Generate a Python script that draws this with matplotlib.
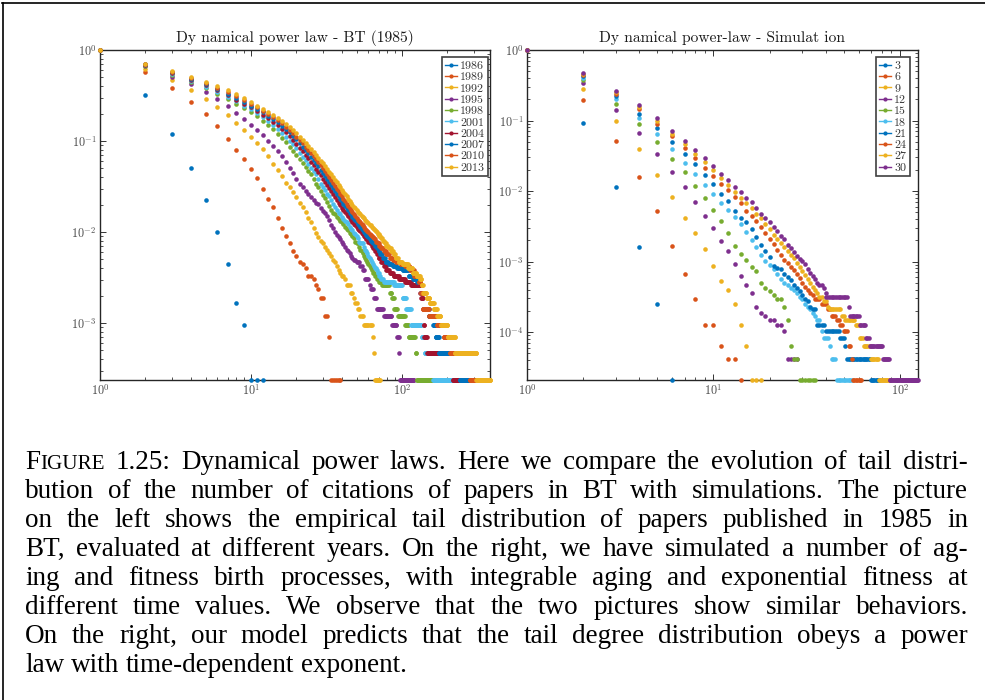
import matplotlib
matplotlib.use('Agg')
import matplotlib.pyplot as plt
from matplotlib.lines import Line2D
from matplotlib import ticker
import numpy as np

plt.rcParams['mathtext.fontset'] = 'cm'

# ---------------- data: left panel (BT, papers published 1985) ----------------
# head: number of papers with >= x citations, for x = 1, 2, 3, ...
# tail: (count, first x, last x) plateaus of the same count
N_BT = 4230
bt_labels = ['1986', '1989', '1992', '1995', '1998', '2001', '2004', '2007', '2010', '2013']

bt1986_head = [4230, 1345, 508, 212, 95, 42, 19]
bt1986_tail = [(7, 8, 8), (4, 9, 9), (1, 10, 12)]

bt1989_head = [4230, 2432, 1629, 1142, 829, 618, 444, 338, 271, 207, 165, 127, 97, 80, 60, 47, 38, 32, 26, 23, 20, 19, 17]
bt1989_tail = [(14, 24, 25), (13, 26, 26), (11, 27, 27), (10, 28, 28), (8, 29, 30), (5, 31, 32), (3, 33, 33), (1, 34, 39)]

bt1992_head = [4230, 2623, 1980, 1535, 1227, 1003, 816, 660, 554, 465, 398, 343, 292, 237, 203, 173, 148, 131, 117, 102,
               88, 79, 71, 60, 54, 47, 41, 37, 34, 32, 29, 27, 25, 23, 21, 20, 18, 16, 15]
bt1992_tail = [(14, 40, 41), (13, 42, 42), (11, 43, 45), (9, 46, 47), (8, 48, 48), (7, 49, 50), (6, 51, 52), (5, 53, 55),
               (4, 56, 63), (3, 64, 64), (2, 65, 65), (1, 66, 72)]

bt1995_head = [4230, 2813, 2157, 1777, 1459, 1222, 1028, 867, 736, 639, 563, 491, 427, 376, 330, 288, 250, 216, 186, 161,
               144, 131, 118, 110, 102, 95, 89, 86, 78, 72, 68, 63, 58, 51, 47, 42, 39, 37, 35, 33, 31, 29, 27, 26, 25, 23, 22]
bt1995_tail = [(21, 48, 49), (20, 50, 52), (18, 53, 54), (16, 55, 56), (13, 57, 60), (11, 61, 61), (10, 62, 64), (8, 65, 67),
               (6, 68, 75), (5, 76, 85), (4, 86, 92), (3, 93, 95), (2, 96, 96), (1, 97, 120)]

bt1998_head = [4230, 2855, 2263, 1882, 1599, 1387, 1218, 1079, 964, 876, 787, 702, 630, 567, 508, 457, 410, 368, 330, 296,
               266, 241, 220, 199, 182, 161, 144, 131, 118, 108, 99, 91, 82, 74, 69, 66, 62, 59, 56, 54, 52, 48, 46, 44, 41,
               40, 38, 36, 33, 32, 32, 29, 27, 26, 25, 23, 22, 21, 20, 19, 18, 17, 16]
bt1998_tail = [(15, 64, 65), (14, 66, 67), (13, 68, 70), (12, 71, 73), (11, 74, 82), (9, 83, 85), (8, 86, 88), (6, 89, 93),
               (5, 94, 104), (4, 105, 110), (3, 111, 122), (2, 123, 124), (1, 125, 160)]

bt2001_head = [4230, 2898, 2327, 1946, 1671, 1459, 1290, 1151, 1036, 939, 859, 778, 702, 635, 575, 520, 470, 427, 389, 351,
               313, 283, 262, 237, 216, 199, 182, 161, 144, 131, 123, 110, 104, 95, 87, 80, 74, 69, 66, 62, 59, 56, 54, 52,
               48, 46, 44, 41, 40, 38, 36, 33, 32, 32, 32, 29, 27, 26, 25, 23, 22, 21, 20, 19, 18]
bt2001_tail = [(17, 66, 67), (16, 68, 68), (15, 69, 70), (14, 71, 72), (13, 73, 75), (12, 76, 88), (11, 89, 100), (8, 101, 106),
               (6, 107, 114), (4, 115, 134), (3, 135, 141), (2, 142, 160), (1, 161, 214)]

bt2004_head = [4230, 2919, 2369, 1988, 1734, 1523, 1345, 1206, 1091, 998, 905, 825, 753, 689, 630, 575, 525, 478, 431, 389,
               355, 325, 298, 273, 250, 229, 210, 193, 177, 163, 150, 139, 128, 119, 110, 102, 95, 89, 83, 78, 74, 70, 66,
               63, 60, 57, 54, 52, 50, 48, 46, 44, 43, 41, 40, 38, 37]
bt2004_tail = [(35, 58, 59), (33, 60, 60), (32, 61, 62), (30, 63, 63), (28, 64, 65), (26, 66, 67), (24, 68, 69), (22, 70, 72),
               (20, 73, 75), (18, 76, 78), (16, 79, 82), (15, 83, 87), (14, 88, 95), (13, 96, 104), (12, 105, 114),
               (11, 115, 131), (9, 132, 133), (8, 134, 137), (6, 138, 138), (4, 139, 140), (3, 141, 146), (2, 147, 217),
               (1, 218, 242)]

bt2007_head = [4230, 2940, 2411, 2030, 1777, 1565, 1396, 1252, 1134, 1036, 952, 876, 804, 740, 681, 626, 575, 529, 482, 440,
               400, 366, 336, 309, 284, 262, 241, 222, 205, 189, 175, 162, 150, 139, 129, 120, 112, 105, 98, 92, 87, 82,
               77, 73, 69, 66, 62, 59, 57, 54, 52, 50, 48, 46, 44, 42, 41, 39, 38, 37, 35, 34, 33]
bt2007_tail = [(32, 64, 65), (30, 66, 67), (28, 68, 69), (26, 70, 71), (24, 72, 74), (22, 75, 77), (20, 78, 81), (19, 82, 86),
               (18, 87, 92), (17, 93, 100), (16, 101, 110), (14, 111, 118), (13, 119, 125), (12, 126, 132), (9, 133, 139),
               (6, 140, 150), (5, 151, 160), (4, 161, 166), (3, 167, 175), (2, 176, 241), (1, 242, 282)]

bt2010_head = [4230, 2961, 2445, 2073, 1832, 1629, 1459, 1311, 1184, 1079, 994, 914, 842, 774, 715, 660, 609, 563, 516, 474,
               435, 400, 368, 339, 312, 288, 266, 246, 228, 211, 196, 182, 169, 157, 146, 136, 127, 119, 111, 104, 98, 92,
               87, 82, 78, 74, 70, 67, 64, 61, 58, 56, 54, 52, 50, 48, 46, 45, 43, 42, 40, 39, 38, 37, 36, 35]
bt2010_tail = [(33, 67, 68), (32, 69, 70), (30, 71, 72), (28, 73, 75), (26, 76, 78), (24, 79, 82), (22, 83, 86), (21, 87, 91),
               (20, 92, 97), (19, 98, 104), (18, 105, 112), (16, 113, 120), (14, 121, 128), (12, 129, 132), (9, 133, 136),
               (6, 137, 150), (5, 151, 169), (4, 170, 188), (3, 189, 207), (2, 208, 281), (1, 282, 310)]

bt2013_head = [4230, 3003, 2475, 2115, 1882, 1692, 1523, 1375, 1248, 1121, 1036, 952, 876, 812, 753, 698, 647, 601, 554, 512,
               470, 435, 402, 372, 345, 320, 297, 276, 257, 240, 224, 209, 195, 182, 170, 159, 149, 140, 131, 123, 116, 110,
               104, 98, 93, 88, 84, 80, 77, 74, 71, 68, 66, 64, 62, 60, 58, 56, 54, 53, 51, 50, 48, 47, 46, 44, 43, 42]
bt2013_tail = [(40, 69, 70), (38, 71, 72), (36, 73, 74), (34, 75, 76), (32, 77, 78), (30, 79, 81), (28, 82, 84), (26, 85, 87),
               (24, 88, 90), (22, 91, 94), (20, 95, 100), (19, 101, 109), (17, 110, 117), (15, 118, 124), (14, 125, 131),
               (13, 132, 134), (11, 135, 137), (9, 138, 145), (8, 146, 152), (7, 153, 162), (6, 163, 170), (5, 171, 180),
               (4, 181, 200), (3, 201, 224), (2, 225, 310), (1, 311, 383)]

# ---------------- data: right panel (simulation) ----------------
N_SIM = 47800
sim_labels = ['3', '6', '9', '12', '15', '18', '21', '24', '27', '30']

sim03_head = [47800, 4445, 545, 76, 12, 1]
sim03_tail = []
sim06_head = [47800, 9417, 2438, 750, 253, 79, 32, 14, 6, 6, 3, 2, 2, 1]
sim06_tail = []
sim09_head = [47800, 13480, 4732, 1912, 803, 397, 201, 120, 72, 42, 25, 19, 12, 6, 3, 1, 1, 1]
sim09_tail = []
sim12_head = [47800, 16252, 6740, 3203, 1582, 899, 550, 330, 210, 143, 94, 67, 44, 30, 22, 17, 11, 9, 8, 7, 7, 6, 6, 5,
              2, 2, 2, 2]
sim12_tail = []
sim15_head = [47800, 18164, 8269, 4254, 2342, 1358, 899, 569, 387, 258, 182, 120, 79, 62, 50, 40, 35, 24, 20, 18, 16, 14,
              14, 11, 7, 3, 2, 2]
sim15_tail = [(1, 29, 35)]
sim18_head = [47800, 19359, 9799, 5162, 3040, 1864, 1209, 832, 583, 435, 325, 258, 206, 163, 124, 96, 77, 59, 48, 43, 38,
              32, 27, 24, 22, 20, 19, 17, 15, 14, 12, 11, 10, 9, 8, 7, 7, 5]
sim18_tail = [(4, 39, 41), (3, 42, 42), (2, 43, 45), (1, 46, 55)]
sim21_head = [47800, 20315, 10612, 5975, 3705, 2390, 1625, 1142, 808, 593, 435, 344, 249, 201, 172, 139, 105, 82, 67, 55,
              42, 39, 37, 32, 29, 26, 22, 20, 18, 16, 14, 13, 11, 10, 10]
sim21_tail = [(6, 36, 39), (5, 40, 47), (4, 48, 50), (3, 51, 51), (2, 52, 69), (1, 70, 77)]
sim24_head = [47800, 21032, 11376, 6931, 4302, 2849, 1965, 1420, 1023, 779, 598, 497, 397, 320, 253, 210, 177, 148, 120,
              100, 85, 70, 59, 51, 46, 40, 36, 32, 28, 24, 21, 19, 17, 16, 14]
sim24_tail = [(14, 36, 37), (12, 38, 40), (10, 41, 42), (8, 43, 45), (7, 46, 47), (6, 48, 49), (5, 50, 52), (3, 53, 54),
              (2, 55, 55), (1, 56, 62)]
sim27_head = [47800, 21749, 11950, 7409, 4684, 3059, 2199, 1625, 1214, 937, 736, 583, 468, 382, 320, 272, 229, 196, 165,
              140, 115, 100, 88, 78, 68, 60, 53, 46, 40, 35, 31, 27, 24, 21, 19, 17]
sim27_tail = [(15, 37, 38), (13, 39, 40), (11, 41, 41), (10, 42, 48), (8, 49, 50), (7, 51, 57), (6, 58, 60), (4, 61, 63),
              (3, 64, 69), (2, 70, 76), (1, 77, 87)]
sim30_head = [47800, 22562, 12667, 7839, 5115, 3442, 2486, 1816, 1386, 1071, 846, 684, 550, 468, 382, 330, 277, 229, 201,
              172, 148, 129, 110, 100, 82, 74, 66, 58, 52, 48, 44, 37, 33, 30, 27, 24, 22, 22, 20, 17]
sim30_tail = [(15, 40, 52), (11, 53, 53), (8, 54, 60), (6, 61, 65), (4, 66, 68), (3, 69, 80), (2, 81, 87), (1, 88, 125)]

# ---------------- style ----------------
BLUE, ORANGE, YELLOW, PURPLE = '#0072BD', '#D95319', '#EDB120', '#7E2F8E'
GREEN, LIGHTBLUE, DARKRED = '#77AC30', '#4DBEEE', '#A2142F'
bt_colors = [BLUE, ORANGE, YELLOW, PURPLE, GREEN, LIGHTBLUE, DARKRED, BLUE, ORANGE, YELLOW]
sim_colors = [BLUE, ORANGE, YELLOW, PURPLE, GREEN, LIGHTBLUE, BLUE, ORANGE, YELLOW, PURPLE]

bt_series = [(bt1986_head, bt1986_tail), (bt1989_head, bt1989_tail), (bt1992_head, bt1992_tail),
             (bt1995_head, bt1995_tail), (bt1998_head, bt1998_tail), (bt2001_head, bt2001_tail),
             (bt2004_head, bt2004_tail), (bt2007_head, bt2007_tail), (bt2010_head, bt2010_tail),
             (bt2013_head, bt2013_tail)]
sim_series = [(sim03_head, sim03_tail), (sim06_head, sim06_tail), (sim09_head, sim09_tail),
              (sim12_head, sim12_tail), (sim15_head, sim15_tail), (sim18_head, sim18_tail),
              (sim21_head, sim21_tail), (sim24_head, sim24_tail), (sim27_head, sim27_tail),
              (sim30_head, sim30_tail)]

W, H = 985, 700
fig = plt.figure(figsize=(W / 100, H / 100), dpi=100)
fig.patch.set_facecolor('white')


def rect(x0, y0, x1, y1):
    return [x0 / W, 1 - y1 / H, (x1 - x0) / W, (y1 - y0) / H]


def expand(head, tail):
    xs = list(range(1, len(head) + 1))
    ks = list(head)
    for k, a, b in tail:
        for x in range(a, b + 1):
            xs.append(x)
            ks.append(k)
    return np.array(xs, float), np.array(ks, float)


axL = fig.add_axes(rect(100, 50, 490, 380))
axR = fig.add_axes(rect(527, 50, 918, 380))

exp_fmt = ticker.FuncFormatter(lambda v, p: r'$10^{%d}$' % int(round(np.log10(v))))


def draw(ax, series, colors, labels, N, xmax, legend_right):
    for (head, tail), c in zip(series, colors):
        x, k = expand(head, tail)
        ax.plot(x, k / N, ls='none', marker='o', ms=3.3, mew=0, color=c, clip_on=False, zorder=3)
    ax.set_xscale('log')
    ax.set_yscale('log')
    ax.set_xlim(1, xmax)
    ax.set_ylim(1.0 / N, 1)
    ax.xaxis.set_major_formatter(exp_fmt)
    ax.yaxis.set_major_formatter(exp_fmt)
    ax.xaxis.set_minor_formatter(ticker.NullFormatter())
    ax.yaxis.set_minor_formatter(ticker.NullFormatter())
    ax.yaxis.set_major_locator(ticker.LogLocator(base=10, numticks=20))
    ax.yaxis.set_minor_locator(ticker.LogLocator(base=10, subs=np.arange(2, 10), numticks=20))
    ax.tick_params(which='both', direction='in', top=True, right=True, color='0.2',
                   labelcolor='0.3', labelsize=8.8, pad=2.5)
    ax.tick_params(which='major', length=4, width=0.7)
    ax.tick_params(which='minor', length=2.5, width=0.6)
    for s in ax.spines.values():
        s.set_color('0.15')
        s.set_linewidth(1.0)
    handles = [Line2D([], [], color=c, lw=1.0, marker='o', ms=3, mew=0) for c in colors]
    leg = ax.legend(handles, labels, loc='upper right', bbox_to_anchor=(legend_right / W, 1 - 57 / H),
                    bbox_transform=fig.transFigure, borderaxespad=0,
                    prop={'family': 'cmr10', 'size': 8.6}, handlelength=1.0, handletextpad=0.25,
                    labelspacing=0.08, borderpad=0.3, frameon=True, fancybox=False,
                    edgecolor='0.25', framealpha=1)
    leg.get_frame().set_linewidth(1.2)
    for t in leg.get_texts():
        t.set_color('0.2')


draw(axL, bt_series, bt_colors, bt_labels, N_BT, 383, 488)
draw(axR, sim_series, sim_colors, sim_labels, N_SIM, 125, 910)

fig.text(295 / W, 1 - 42 / H, 'Dy namical power law - BT (1985)', family='cmr10', fontsize=11.2,
         ha='center', va='baseline', color='0.1')
fig.text(722 / W, 1 - 42 / H, 'Dy namical power-law - Simulat ion', family='cmr10', fontsize=11.2,
         ha='center', va='baseline', color='0.1')

# ---------------- caption ----------------
CAP_FONT = 'Liberation Serif'
CAP_SIZE = 19.5
cap_lines = [
    'FIGURE 1.25: Dynamical power laws. Here we compare the evolution of tail distri-',
    'bution of the number of citations of papers in BT with simulations. The picture',
    'on the left shows the empirical tail distribution of papers published in 1985 in',
    'BT, evaluated at different years. On the right, we have simulated a number of ag-',
    'ing and fitness birth processes, with integrable aging and exponential fitness at',
    'different time values. We observe that the two pictures show similar behaviors.',
    'On the right, our model predicts that the tail degree distribution obeys a power',
    'law with time-dependent exponent.',
]
renderer = fig.canvas.get_renderer()


def tw(s, size):
    t = fig.text(0, 0, s, fontsize=size, family=CAP_FONT)
    w = t.get_window_extent(renderer).width
    t.remove()
    return w


X0, X1 = 25, 968
for i, line in enumerate(cap_lines):
    yb = 469 + 29 * i
    words = line.split(' ')
    segs = []
    for j, w in enumerate(words):
        if i == 0 and j == 0:
            segs.append([('F', CAP_SIZE), ('IGURE', CAP_SIZE * 0.78)])
        else:
            segs.append([(w, CAP_SIZE)])
    widths = [sum(tw(s, sz) for s, sz in ws) for ws in segs]
    if i == len(cap_lines) - 1:
        gap = tw('a b', CAP_SIZE) - tw('ab', CAP_SIZE)
    else:
        gap = (X1 - X0 - sum(widths)) / (len(words) - 1)
    x = X0
    for ws, wd in zip(segs, widths):
        for s, sz in ws:
            fig.text(x / W, 1 - yb / H, s, fontsize=sz, family=CAP_FONT, ha='left', va='baseline', color='black')
            x += tw(s, sz)
        x += gap

# page frame
fig.add_artist(Line2D([2 / W, 1], [1 - 3 / H, 1 - 3 / H], transform=fig.transFigure, color='black', lw=1.2))
fig.add_artist(Line2D([2.5 / W, 2.5 / W], [0, 1 - 3 / H], transform=fig.transFigure, color='black', lw=1.2))

fig.savefig('out.png', dpi=100, facecolor='white')
